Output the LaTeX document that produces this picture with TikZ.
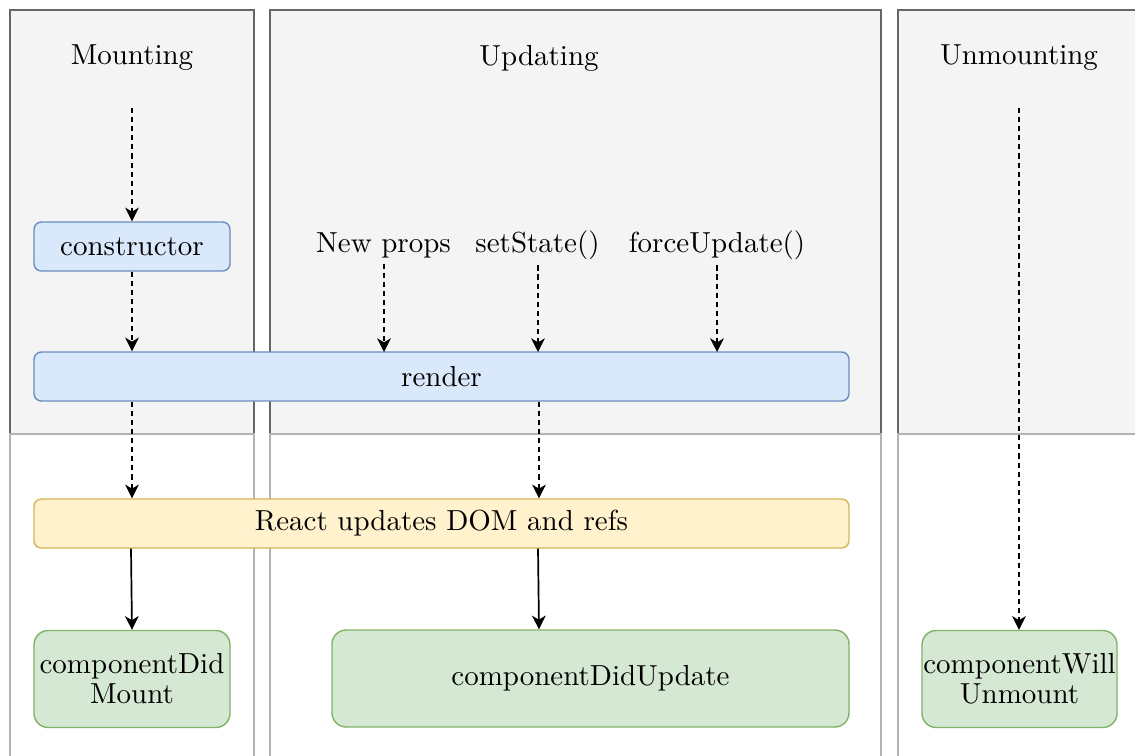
\documentclass[tikz,border=0pt]{standalone}
\usetikzlibrary{arrows.meta}
\definecolor{laneFill}{HTML}{F4F4F4}
\definecolor{laneLine}{HTML}{666666}
\definecolor{lowLine}{HTML}{B3B3B3}
\definecolor{blueFill}{HTML}{DAE8FC}
\definecolor{blueLine}{HTML}{6C8EBF}
\definecolor{yelFill}{HTML}{FFF2CC}
\definecolor{yelLine}{HTML}{D6B656}
\definecolor{grnFill}{HTML}{D5E8D4}
\definecolor{grnLine}{HTML}{82B366}
\tikzset{
  lanetop/.style={draw=laneLine, fill=laneFill, line width=0.5pt},
  lanelow/.style={draw=lowLine, fill=white, line width=0.5pt},
  title/.style={font=\fontsize{10.2}{12}\selectfont},
  lbl/.style={font=\fontsize{10.2}{12}\selectfont, inner sep=1pt},
  flatbox/.style={rectangle, rounded corners=2.6pt, line width=0.5pt,
    font=\fontsize{10.2}{12}\selectfont, inner sep=0pt},
  bluebox/.style={flatbox, draw=blueLine, fill=blueFill},
  yelbox/.style={flatbox, draw=yelLine, fill=yelFill},
  grnbox/.style={rectangle, rounded corners=5pt, line width=0.5pt,
    draw=grnLine, fill=grnFill, align=center, inner sep=0pt,
    font=\fontsize{10.2}{10.6}\selectfont},
  flow/.style={line width=0.6pt, -{Stealth[length=4.8pt, width=4.8pt, inset=1.4pt]}},
  flowdash/.style={flow, dash pattern=on 1.8pt off 1.4pt},
}
\begin{document}
\begin{tikzpicture}[x=0.352pt, y=-0.352pt]
\clip (0,0) rectangle (1135,755);
\fill[white] (0,0) rectangle (1135,755);

% swimlanes: shaded header part and white lower part
\draw[lanetop] (10,10) rectangle (254,434);
\draw[lanetop] (270,10) rectangle (881,434);
\draw[lanetop] (898,10) rectangle (1145,434);
\draw[lanelow] (10,434) rectangle (254,770);
\draw[lanelow] (270,434) rectangle (881,770);
\draw[lanelow] (898,434) rectangle (1145,770);

% lane titles
\node[title] (tmount) at (132,58) {Mounting};
\node[title] (tupdate) at (539,58) {Updating};
\node[title] (tunmount) at (1019,58) {Unmounting};

% start points of the entry arrows
\coordinate (smount) at (132,108);
\coordinate (sunmount) at (1019,108);

% lifecycle steps
\node[bluebox, minimum width=196*0.352pt, minimum height=49*0.352pt] (ctor) at (132,246.5) {constructor};
\node[bluebox, minimum width=815*0.352pt, minimum height=49*0.352pt] (render) at (441.5,376.5) {render};
\node[yelbox, minimum width=815*0.352pt, minimum height=49*0.352pt] (dom) at (441.5,523.5) {React updates DOM and refs};
\node[grnbox, minimum width=196*0.352pt, minimum height=97*0.352pt] (didmount) at (132,679) {componentDid\\Mount};
\node[grnbox, minimum width=517*0.352pt, minimum height=97*0.352pt] (didupdate) at (590.5,678.5) {componentDidUpdate};
\node[grnbox, minimum width=195*0.352pt, minimum height=97*0.352pt] (willunmount) at (1019.5,679) {componentWill\\Unmount};

% update triggers
\node[lbl] (props) at (383.5,245.5) {New props};
\node[lbl] (setstate) at (537.5,245.5) {setState()};
\node[lbl] (force) at (717,245.5) {forceUpdate()};

% connectors
\draw[flowdash] (smount) -- (ctor.north);
\draw[flowdash] (ctor.south) -- (ctor.south |- render.north);
\draw[flowdash] (props.south -| 384,0) ++(0,2) -- (384,352);
\draw[flowdash] (setstate.south -| 538,0) ++(0,2) -- (538,352);
\draw[flowdash] (force.south -| 717,0) ++(0,2) -- (717,352);
\draw[flowdash] (render.south -| 132,0) -- (dom.north -| 132,0);
\draw[flowdash] (render.south -| 539,0) -- (dom.north -| 539,0);
\draw[flow] (dom.south -| 131,0) -- (didmount.north);
\draw[flow] (dom.south -| 538,0) -- (didupdate.north -| 539,0);
\draw[flowdash] (sunmount) -- (willunmount.north -| 1019,0);
\end{tikzpicture}
\end{document}
